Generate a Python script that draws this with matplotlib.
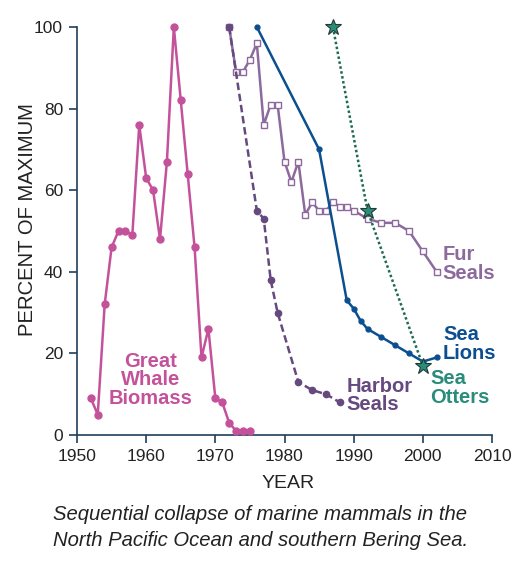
import matplotlib
matplotlib.use("Agg")
import matplotlib.pyplot as plt

plt.rcParams['font.family'] = ['Liberation Sans', 'DejaVu Sans']

whale_years = [1952, 1953, 1954, 1955, 1956, 1957, 1958, 1959, 1960, 1961, 1962, 1963,
               1964, 1965, 1966, 1967, 1968, 1969, 1970, 1971, 1972, 1973, 1974, 1975]
whale_vals = [9, 5, 32, 46, 50, 50, 49, 76, 63, 60, 48, 67,
              100, 82, 64, 46, 19, 26, 9, 8, 3, 1, 1, 1]

harbor_years = [1972, 1976, 1977, 1978, 1979, 1982, 1984, 1986, 1988]
harbor_vals = [100, 55, 53, 38, 30, 13, 11, 10, 8]

lion_years = [1976, 1985, 1989, 1990, 1991, 1992, 1994, 1996, 1998, 2000, 2002]
lion_vals = [100, 70, 33, 31, 28, 26, 24, 22, 20, 18, 19]

fur_years = [1972, 1973, 1974, 1975, 1976, 1977, 1978, 1979, 1980, 1981, 1982, 1983,
             1984, 1985, 1986, 1987, 1988, 1989, 1990, 1992, 1994, 1996, 1998, 2000, 2002]
fur_vals = [100, 89, 89, 92, 96, 76, 81, 81, 67, 62, 67, 54,
            57, 55, 55, 57, 56, 56, 55, 53, 52, 52, 50, 45, 40]

otter_years = [1987, 1992, 2000]
otter_vals = [100, 55, 17]

x_ticks = [1950, 1960, 1970, 1980, 1990, 2000, 2010]
y_ticks = [0, 20, 40, 60, 80, 100]

c_whale = '#c4529b'
c_harbor = '#65497f'
c_fur = '#8d6a9d'
c_lion = '#0c4f90'
c_otter = '#2a8c7a'
c_otter_line = '#1d6a55'
c_axis = '#1f3f5a'
c_text = '#222222'

fig = plt.figure(figsize=(5.28, 5.76), dpi=100)
ax = fig.add_axes([77/528, 1-435/576, (492-77)/528, (435-27)/576])

ax.plot(whale_years, whale_vals, color=c_whale, lw=1.8, marker='o', ms=5,
        mfc=c_whale, mec=c_whale, zorder=3, clip_on=False)
ax.plot(fur_years, fur_vals, color=c_fur, lw=1.8, marker='s', ms=5,
        mfc='white', mec=c_fur, mew=1.0, zorder=3, clip_on=False)
ax.plot(harbor_years, harbor_vals, color=c_harbor, lw=1.8, ls=(0, (3, 1.5)),
        marker='o', ms=4.5, mfc=c_harbor, mec=c_harbor, zorder=4, clip_on=False)
ax.plot(lion_years, lion_vals, color=c_lion, lw=1.8, marker='o', ms=3.5,
        mfc=c_lion, mec=c_lion, zorder=4, clip_on=False)
ax.plot(otter_years, otter_vals, color=c_otter_line, lw=1.8, ls=(0, (1, 1)),
        zorder=5, clip_on=False)
ax.plot(otter_years, otter_vals, ls='none', marker='*', ms=12,
        mfc=c_otter, mec='#1f3b33', mew=0.8, zorder=6, clip_on=False)

ax.set_xlim(1950, 2010)
ax.set_ylim(0, 100)
ax.set_xticks(x_ticks)
ax.set_yticks(y_ticks)
ax.tick_params(axis='both', direction='out', length=6, width=1.2, color=c_axis,
               labelsize=12.5, labelcolor=c_text, pad=4)
for s in ['top', 'right']:
    ax.spines[s].set_visible(False)
for s in ['left', 'bottom']:
    ax.spines[s].set_color(c_axis)
    ax.spines[s].set_linewidth(1.2)
fig.text(288/528, 1-483/576, 'YEAR', fontsize=14, color=c_text,
         ha='center', va='center')
fig.text(28/528, 1-220/576, 'PERCENT OF MAXIMUM', rotation=90, fontsize=14.6,
         color=c_text, ha='center', va='center')

lab_kw = dict(fontsize=14.5, fontweight='bold', linespacing=0.95)
ax.text(1960.6, 13.5, 'Great\nWhale\nBiomass', color=c_whale, ha='center', va='center', **lab_kw)
ax.text(1989.0, 9.6, 'Harbor\nSeals', color=c_harbor, ha='left', va='center', **lab_kw)
ax.text(2002.8, 41.9, 'Fur\nSeals', color=c_fur, ha='left', va='center', **lab_kw)
ax.text(2002.9, 22.3, 'Sea\nLions', color=c_lion, ha='left', va='center', **lab_kw)
ax.text(2001.1, 11.5, 'Sea\nOtters', color=c_otter, ha='left', va='center', **lab_kw)

fig.text(53/528, 1-515/576, 'Sequential collapse of marine mammals in the',
         fontsize=14.6, style='italic', color=c_text, va='center', ha='left')
fig.text(53/528, 1-541/576, 'North Pacific Ocean and southern Bering Sea.',
         fontsize=14.6, style='italic', color=c_text, va='center', ha='left')

fig.savefig('out.png', dpi=100)
